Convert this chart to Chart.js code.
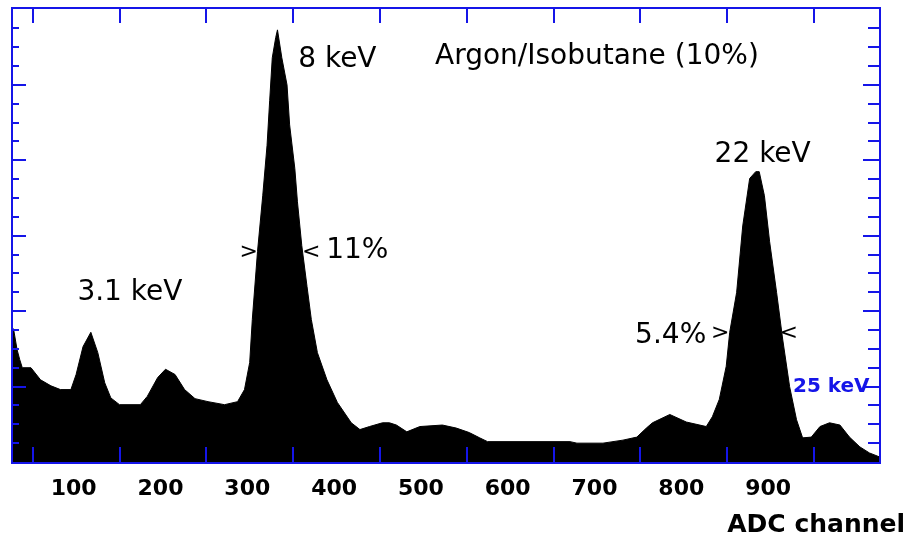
<!DOCTYPE html>
<html>
<head>
<meta charset="utf-8">
<script src="https://cdn.jsdelivr.net/npm/chart.js@4"></script>
<style>
  html, body { margin: 0; padding: 0; background: #fff; }
</style>
</head>
<body>
<canvas id="spectrum" width="910" height="537"></canvas>
<script>
// spectrum (ADC channel vs counts)
const channels = [75, 78, 82, 85, 88, 98, 109, 121, 132, 144, 150, 158, 167, 175, 183, 190, 200, 224, 232, 244,
    253, 264, 275, 287, 302, 321, 336, 344, 350, 353, 359, 365, 370, 373, 376, 380, 382, 387, 393, 396,
    402, 405, 410, 416, 421, 428, 439, 451, 467, 477, 488, 503, 511, 519, 531, 546, 572, 588, 603, 615,
    624, 719, 727, 757, 780, 796, 807, 814, 834, 853, 876, 883, 891, 899, 903, 911, 918, 926, 933, 937,
    943, 949, 957, 964, 972, 980, 987, 997, 1007, 1018, 1030, 1041, 1053, 1064, 1075];
const counts = [180, 176, 149, 136, 125, 125, 109, 101, 96, 96, 116, 153, 172, 145, 105, 85, 76, 76, 87, 112,
    123, 116, 96, 84, 80, 76, 80, 96, 132, 189, 279, 353, 420, 479, 536, 563, 573, 536, 500, 447,
    389, 345, 287, 233, 189, 145, 109, 79, 52, 43, 47, 52, 52, 49, 40, 47, 49, 45, 39, 32,
    27, 27, 25, 25, 29, 33, 45, 52, 63, 53, 47, 60, 83, 127, 172, 225, 313, 376, 385, 385,
    353, 292, 225, 163, 100, 56, 32, 33, 47, 52, 49, 33, 20, 12, 7];

const xTickValues = [100, 200, 300, 400, 500, 600, 700, 800, 900, 1000];
const xTickLabels = ['100', '200', '300', '400', '500', '600', '700', '800', '900', ''];
const yMinorStep = 25;
const yMajorStep = 100;

const peakLabels = ['8 keV', 'Argon/Isobutane (10%)', '22 keV', '3.1 keV', '11%', '5.4%'];
const peakLabelX = [451, 750, 941, 212, 474, 835];
const peakLabelY = [534, 538, 408, 224, 280, 168];

// FWHM markers
const markerText = ['>', '<', '>', '<'];
const markerX = [349, 421, 892, 971];
const markerY = [278, 278, 171, 171];

const frameColor = '#1515e8';

const decorations = {
    id: 'decorations',
    afterDraw(chart) {
        const { ctx, chartArea: a, scales: { x, y } } = chart;
        ctx.save();

        // labels
        ctx.fillStyle = '#000';
        ctx.textAlign = 'center';
        ctx.textBaseline = 'middle';
        ctx.font = '28px "DejaVu Sans"';
        peakLabels.forEach((t, i) => {
            ctx.fillText(t, x.getPixelForValue(peakLabelX[i]), y.getPixelForValue(peakLabelY[i]));
        });
        ctx.font = '22px "DejaVu Sans"';
        markerText.forEach((t, i) => {
            ctx.fillText(t, x.getPixelForValue(markerX[i]), y.getPixelForValue(markerY[i]));
        });
        ctx.fillStyle = frameColor;
        ctx.font = 'bold 20px "DejaVu Sans"';
        ctx.fillText('25 keV', x.getPixelForValue(1020), y.getPixelForValue(100));

        // axis title
        ctx.fillStyle = '#000';
        ctx.textAlign = 'right';
        ctx.textBaseline = 'alphabetic';
        ctx.font = 'bold 25px "DejaVu Sans"';
        ctx.fillText('ADC channel', 905, 532);

        // frame and inner ticks
        ctx.strokeStyle = frameColor;
        ctx.lineWidth = 2;
        ctx.strokeRect(a.left + 1, a.top, a.right - a.left, a.bottom - a.top + 1);
        ctx.beginPath();
        x.ticks.forEach(t => {
            const px = Math.round(x.getPixelForValue(t.value));
            ctx.moveTo(px, a.top);
            ctx.lineTo(px, a.top + 15);
            ctx.moveTo(px, a.bottom);
            ctx.lineTo(px, a.bottom - 15);
        });
        y.ticks.forEach(t => {
            if (t.value <= 0 || t.value % yMinorStep !== 0) return;
            const py = Math.round(y.getPixelForValue(t.value));
            const major = t.value % yMajorStep === 0;
            ctx.moveTo(a.left, py);
            ctx.lineTo(a.left + (major ? 15 : 8), py);
            ctx.moveTo(a.right, py);
            ctx.lineTo(a.right - (major ? 16 : 11), py);
        });
        ctx.stroke();
        ctx.restore();
    }
};

new Chart(document.getElementById('spectrum'), {
    type: 'line',
    data: {
        datasets: [{
            data: channels.map((c, i) => ({ x: c, y: counts[i] })),
            fill: 'origin',
            backgroundColor: '#000',
            borderColor: '#000',
            borderWidth: 1,
            pointRadius: 0,
            tension: 0
        }]
    },
    options: {
        responsive: false,
        devicePixelRatio: 1,
        animation: false,
        layout: { padding: { left: 11, right: 31, top: 8, bottom: 0 } },
        plugins: { legend: { display: false }, tooltip: { enabled: false } },
        scales: {
            x: {
                type: 'linear',
                min: 75,
                max: 1075,
                afterBuildTicks: s => { s.ticks = xTickValues.map(v => ({ value: v })); },
                afterFit: s => {
                    s.height = 75;
                    s.paddingLeft = 0;
                    s.paddingRight = 0;
                },
                grid: { display: false, drawTicks: false },
                border: { display: false },
                ticks: {
                    autoSkip: false,
                    maxRotation: 0,
                    labelOffset: 41,
                    padding: 14,
                    color: '#000',
                    font: { family: 'DejaVu Sans', size: 22, weight: 'bold' },
                    callback: (v, i) => xTickLabels[i]
                }
            },
            y: {
                min: 0,
                max: 602,
                afterFit: s => { s.width = 0; },
                ticks: { display: false, stepSize: yMinorStep },
                grid: { display: false },
                border: { display: false }
            }
        }
    },
    plugins: [decorations]
});
</script>
</body>
</html>
